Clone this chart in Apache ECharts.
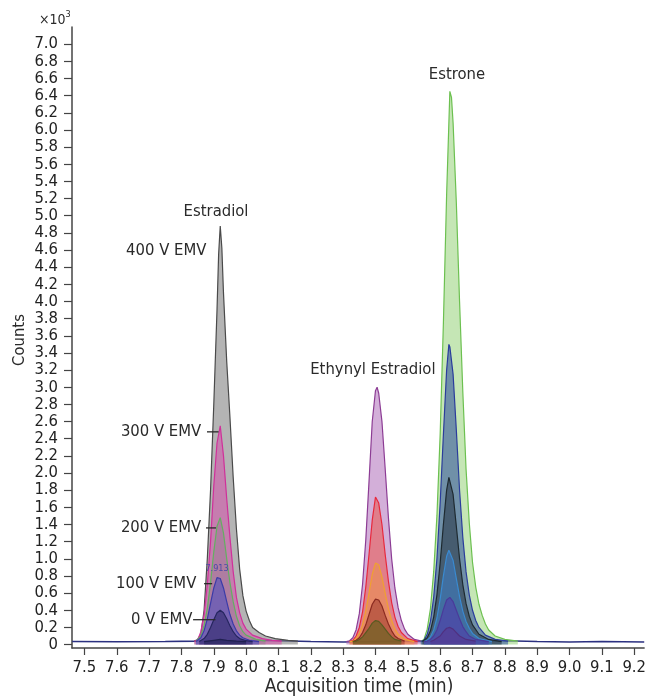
<!DOCTYPE html>
<html><head><meta charset="utf-8">
<script src="https://cdn.jsdelivr.net/npm/echarts@6.0.0/dist/echarts.min.js"></script>
<style>html,body{margin:0;padding:0;background:#fff}#c{width:649px;height:696px}</style>
</head><body><div id="c"></div>
<script>
const FONT = '"Liberation Sans Narrow","DejaVu Sans Condensed","Liberation Sans",sans-serif';

const xTicks = [7.5,7.6,7.7,7.8,7.9,8.0,8.1,8.2,8.3,8.4,8.5,8.6,8.7,8.8,8.9,9.0,9.1,9.2];
const yTicks = [0,0.2,0.4,0.6,0.8,1.0,1.2,1.4,1.6,1.8,2.0,2.2,2.4,2.6,2.8,3.0,3.2,3.4,3.6,3.8,4.0,4.2,4.4,4.6,4.8,5.0,5.2,5.4,5.6,5.8,6.0,6.2,6.4,6.6,6.8,7.0];

// counts in thousands, time in min
const baseline = [[7.462,0.035],[7.6,0.033],[7.75,0.036],[7.85,0.04],[8.0,0.05],[8.1,0.045],[8.2,0.035],[8.3,0.03],[8.5,0.04],[8.55,0.035],[8.8,0.045],[8.9,0.035],[9.0,0.03],[9.1,0.035],[9.231,0.03]];

const estradiol400 = [[7.84,0.04],[7.85,0.06],[7.86,0.12],[7.87,0.4],[7.88,1.0],[7.89,1.8],[7.90,2.8],[7.91,3.9],[7.915,4.55],[7.92,4.88],[7.925,4.62],[7.93,4.1],[7.94,3.3],[7.95,2.65],[7.96,1.95],[7.97,1.35],[7.98,0.88],[7.99,0.57],[8.00,0.39],[8.01,0.28],[8.02,0.2],[8.04,0.14],[8.06,0.1],[8.09,0.07],[8.13,0.05],[8.16,0.04]];
const estradiol300 = [[7.84,0.04],[7.85,0.05],[7.86,0.15],[7.87,0.35],[7.88,0.7],[7.89,1.2],[7.90,1.85],[7.91,2.35],[7.92,2.55],[7.93,2.2],[7.94,1.7],[7.95,1.25],[7.96,0.85],[7.97,0.55],[7.98,0.37],[7.99,0.25],[8.00,0.18],[8.02,0.11],[8.05,0.07],[8.08,0.05],[8.11,0.04]];
const estradiol200 = [[7.845,0.035],[7.85,0.04],[7.86,0.1],[7.87,0.22],[7.88,0.42],[7.89,0.72],[7.90,1.08],[7.91,1.38],[7.92,1.48],[7.93,1.3],[7.94,1.0],[7.95,0.72],[7.96,0.5],[7.97,0.33],[7.98,0.22],[7.99,0.15],[8.00,0.11],[8.03,0.06],[8.06,0.04]];
const estradiol100 = [[7.845,0.035],[7.85,0.04],[7.86,0.08],[7.87,0.16],[7.88,0.3],[7.89,0.48],[7.90,0.66],[7.91,0.78],[7.915,0.8],[7.92,0.77],[7.93,0.66],[7.94,0.5],[7.95,0.35],[7.96,0.24],[7.97,0.16],[7.98,0.11],[7.99,0.08],[8.01,0.05],[8.04,0.035]];
const estradiol0 = [[7.855,0.035],[7.86,0.04],[7.87,0.07],[7.88,0.12],[7.89,0.2],[7.90,0.29],[7.91,0.37],[7.92,0.40],[7.93,0.37],[7.94,0.3],[7.95,0.22],[7.96,0.15],[7.97,0.1],[7.98,0.07],[8.00,0.045],[8.02,0.035]];
const estradiolLow = [[7.87,0.035],[7.90,0.05],[7.92,0.06],[7.94,0.05],[7.97,0.04],[8.0,0.035]];

const ethynyl400 = [[8.31,0.035],[8.32,0.045],[8.33,0.08],[8.34,0.17],[8.35,0.36],[8.36,0.7],[8.37,1.22],[8.38,1.9],[8.39,2.6],[8.40,2.96],[8.405,3.0],[8.41,2.93],[8.42,2.6],[8.43,2.05],[8.44,1.48],[8.45,1.0],[8.46,0.66],[8.47,0.43],[8.48,0.28],[8.49,0.18],[8.50,0.12],[8.52,0.06],[8.55,0.035]];
const ethynyl300 = [[8.32,0.035],[8.33,0.05],[8.34,0.1],[8.35,0.2],[8.36,0.38],[8.37,0.67],[8.38,1.05],[8.39,1.45],[8.40,1.72],[8.405,1.73],[8.41,1.65],[8.42,1.4],[8.43,1.05],[8.44,0.74],[8.45,0.49],[8.46,0.32],[8.47,0.21],[8.48,0.14],[8.50,0.07],[8.53,0.035]];
const ethynyl200 = [[8.32,0.035],[8.33,0.04],[8.34,0.07],[8.35,0.13],[8.36,0.23],[8.37,0.39],[8.38,0.6],[8.39,0.82],[8.40,0.95],[8.405,0.97],[8.41,0.93],[8.42,0.79],[8.43,0.6],[8.44,0.42],[8.45,0.28],[8.46,0.18],[8.47,0.12],[8.49,0.06],[8.52,0.035]];
const ethynyl100 = [[8.33,0.035],[8.34,0.05],[8.35,0.08],[8.36,0.14],[8.37,0.23],[8.38,0.35],[8.39,0.47],[8.40,0.53],[8.405,0.54],[8.41,0.52],[8.42,0.45],[8.43,0.34],[8.44,0.24],[8.45,0.16],[8.46,0.1],[8.47,0.07],[8.49,0.04]];
const ethynyl0 = [[8.33,0.035],[8.34,0.04],[8.35,0.06],[8.36,0.09],[8.37,0.14],[8.38,0.19],[8.39,0.25],[8.40,0.28],[8.41,0.27],[8.42,0.23],[8.43,0.18],[8.44,0.13],[8.45,0.09],[8.46,0.06],[8.48,0.04]];

const estrone400 = [[8.54,0.035],[8.55,0.06],[8.56,0.18],[8.57,0.42],[8.58,0.85],[8.59,1.5],[8.60,2.45],[8.61,3.75],[8.62,5.25],[8.63,6.45],[8.635,6.38],[8.64,6.08],[8.65,5.15],[8.66,4.0],[8.67,2.95],[8.68,2.05],[8.69,1.42],[8.70,0.96],[8.71,0.67],[8.72,0.47],[8.73,0.34],[8.74,0.24],[8.75,0.17],[8.77,0.1],[8.80,0.06],[8.84,0.04]];
const estrone300 = [[8.54,0.035],[8.55,0.05],[8.56,0.12],[8.57,0.27],[8.58,0.55],[8.59,1.0],[8.60,1.65],[8.61,2.45],[8.62,3.2],[8.627,3.5],[8.63,3.47],[8.64,3.15],[8.65,2.5],[8.66,1.8],[8.67,1.25],[8.68,0.85],[8.69,0.58],[8.70,0.4],[8.71,0.28],[8.72,0.2],[8.74,0.11],[8.77,0.06],[8.81,0.04]];
const estrone200 = [[8.545,0.035],[8.55,0.045],[8.56,0.08],[8.57,0.16],[8.58,0.32],[8.59,0.58],[8.60,0.95],[8.61,1.4],[8.62,1.8],[8.627,1.95],[8.63,1.93],[8.64,1.75],[8.65,1.38],[8.66,1.0],[8.67,0.7],[8.68,0.48],[8.69,0.33],[8.70,0.23],[8.72,0.12],[8.75,0.06],[8.79,0.035]];
const estrone150 = [[8.55,0.035],[8.56,0.05],[8.57,0.09],[8.58,0.17],[8.59,0.31],[8.60,0.53],[8.61,0.8],[8.62,1.03],[8.627,1.1],[8.63,1.09],[8.64,0.98],[8.65,0.77],[8.66,0.56],[8.67,0.39],[8.68,0.27],[8.69,0.19],[8.70,0.13],[8.72,0.07],[8.76,0.035]];
const estrone100 = [[8.55,0.035],[8.56,0.04],[8.57,0.06],[8.58,0.1],[8.59,0.17],[8.60,0.28],[8.61,0.41],[8.62,0.52],[8.63,0.55],[8.64,0.5],[8.65,0.4],[8.66,0.3],[8.67,0.21],[8.68,0.15],[8.69,0.1],[8.71,0.06],[8.75,0.035]];
const estrone0 = [[8.57,0.035],[8.58,0.05],[8.60,0.1],[8.61,0.15],[8.62,0.19],[8.63,0.2],[8.64,0.18],[8.65,0.14],[8.66,0.1],[8.68,0.06],[8.71,0.04]];

const traces = [
  {data: estradiol400, line:'#4a4a4a', fill:'rgba(125,125,125,0.58)'},
  {data: estradiol300, line:'#d0309a', fill:'rgba(215,70,170,0.5)'},
  {data: estradiol200, line:'#62b060', fill:'rgba(140,125,140,0.4)'},
  {data: estradiol100, line:'#3b3ba8', fill:'rgba(80,80,190,0.6)'},
  {data: estradiol0, line:'#262660', fill:'rgba(40,35,100,0.55)'},
  {data: estradiolLow, line:'#202050', fill:'rgba(30,30,80,0.5)'},
  {data: ethynyl400, line:'#8c3c94', fill:'rgba(175,110,185,0.55)'},
  {data: ethynyl300, line:'#e8283c', fill:'rgba(235,85,75,0.55)'},
  {data: ethynyl200, line:'#f0a030', fill:'rgba(240,150,60,0.45)'},
  {data: ethynyl100, line:'#8a2a20', fill:'rgba(150,50,40,0.5)'},
  {data: ethynyl0, line:'#5a5a20', fill:'rgba(95,100,30,0.6)'},
  {data: estrone400, line:'#6cc050', fill:'rgba(150,210,120,0.55)'},
  {data: estrone300, line:'#2a3c9c', fill:'rgba(60,90,160,0.62)'},
  {data: estrone200, line:'#1e2a30', fill:'rgba(40,55,70,0.58)'},
  {data: estrone150, line:'#3a8ad0', fill:'rgba(60,130,210,0.5)'},
  {data: estrone100, line:'#4a3a9a', fill:'rgba(80,60,170,0.6)'},
  {data: estrone0, line:'#503080', fill:'rgba(90,50,140,0.5)'}
];

// annotations in data coordinates
const peakNames = [
  {text:'Estradiol', t:7.907, v:5.05},
  {text:'Ethynyl Estradiol', t:8.392, v:3.2},
  {text:'Estrone', t:8.652, v:6.64}
];
const emvLabels = [
  {text:'400 V EMV', t:7.753, v:4.59, lead:null},
  {text:'300 V EMV', t:7.861, v:2.48, lead:[7.879,7.915]},
  {text:'200 V EMV', t:7.861, v:1.36, lead:[7.876,7.907]},
  {text:'100 V EMV', t:7.846, v:0.71, lead:[7.870,7.895]},
  {text:'0 V EMV',   t:7.834, v:0.29, lead:[7.836,7.905]}
];
const rtLabel = {text:'7.913', t:7.91, v:0.88};

const series = [{
  type:'line', data: baseline, showSymbol:false, silent:true,
  lineStyle:{color:'#2b3080', width:1.6}, z:1
}];
traces.forEach((tr,i)=>{
  series.push({
    type:'line', data: tr.data, showSymbol:false, silent:true,
    lineStyle:{color:tr.line, width:1.2},
    areaStyle:{color:tr.fill, opacity:1},
    z:2+i
  });
});

const axisCol = '#444';
const option = {
  animation:false,
  backgroundColor:'#ffffff',
  grid:{left:72, right:1, top:27, bottom:48, containLabel:false},
  xAxis:{
    type:'value', min:7.4616, max:9.2307,
    axisLine:{show:true, onZero:false, lineStyle:{color:axisCol, width:1.5}},
    axisTick:{show:true, length:7, customValues:xTicks, lineStyle:{color:axisCol, width:1.2}},
    axisLabel:{customValues:xTicks, formatter:v=>v.toFixed(1), fontFamily:FONT, fontSize:16.5, color:'#222', margin:11},
    splitLine:{show:false}
  },
  yAxis:{
    type:'value', min:-0.04, max:7.2,
    axisLine:{show:true, onZero:false, lineStyle:{color:axisCol, width:1.5}},
    axisTick:{show:true, length:8, customValues:yTicks, lineStyle:{color:axisCol, width:1.2}},
    axisLabel:{customValues:yTicks, formatter:v=>(Math.abs(v)<1e-9?'0':v.toFixed(1)), fontFamily:FONT, fontSize:16.5, color:'#222', margin:14},
    splitLine:{show:false}
  },
  series: series
};

const chart = echarts.init(document.getElementById('c'));
chart.setOption(option);

const P = (t,v)=>chart.convertToPixel({gridIndex:0},[t,v]);
const g = [];
peakNames.forEach(a=>{
  const p = P(a.t,a.v);
  g.push({type:'text', x:p[0], y:p[1], z:100, style:{text:a.text, fontFamily:FONT, fontSize:16.5, fill:'#2a2a2a', align:'center', verticalAlign:'middle'}});
});
emvLabels.forEach(a=>{
  const p = P(a.t,a.v);
  g.push({type:'text', x:p[0], y:p[1], z:100, style:{text:a.text, fontFamily:FONT, fontSize:16.5, fill:'#2a2a2a', align: a.lead? 'right':'center', verticalAlign:'middle'}});
  if(a.lead){
    const p1 = P(a.lead[0],a.v), p2 = P(a.lead[1],a.v);
    g.push({type:'line', z:100, shape:{x1:p1[0],y1:p1[1],x2:p2[0],y2:p2[1]}, style:{stroke:'#2a2a2a', lineWidth:1.3}});
  }
});
{
  const p = P(rtLabel.t, rtLabel.v);
  g.push({type:'text', x:p[0], y:p[1], z:100, style:{text:rtLabel.text, fontFamily:FONT, fontSize:9, fill:'#4a4aa8', align:'center', verticalAlign:'middle'}});
}
g.push({type:'text', x:20, y:340, rotation:Math.PI/2, z:100, style:{text:'Counts', fontFamily:FONT, fontSize:16.5, fill:'#2a2a2a', align:'center', verticalAlign:'middle'}});
g.push({type:'text', x:359, y:687, z:100, style:{text:'Acquisition time (min)', fontFamily:FONT, fontSize:19, fill:'#2a2a2a', align:'center', verticalAlign:'middle'}});
g.push({type:'text', x:39, y:19, z:100, style:{text:'{a|×10}{b|3}', fontFamily:FONT, fill:'#2a2a2a', align:'left', verticalAlign:'middle',
  rich:{a:{fontFamily:FONT, fontSize:14, fill:'#2a2a2a', verticalAlign:'bottom'}, b:{fontFamily:FONT, fontSize:9, fill:'#2a2a2a', verticalAlign:'top', padding:[0,0,8,0]}}}});
chart.setOption({graphic:g});
</script>
</body></html>
